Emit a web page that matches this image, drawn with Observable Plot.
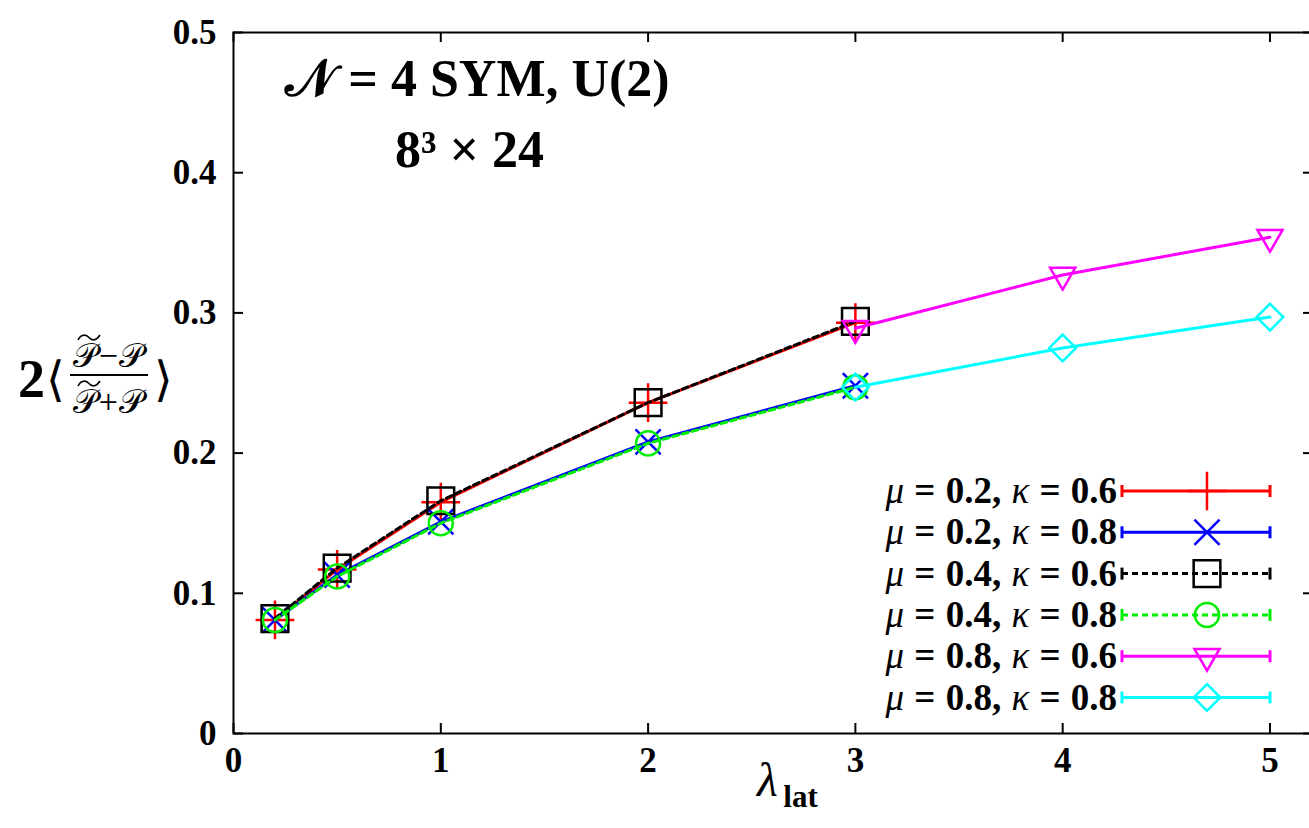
<!DOCTYPE html>
<html>
<head>
<meta charset="utf-8">
<script src="https://cdn.jsdelivr.net/npm/d3@7"></script>
<script src="https://cdn.jsdelivr.net/npm/@observablehq/plot@0.6"></script>
<style>
  html, body { margin: 0; padding: 0; background: #fff; overflow: hidden; }
  #wrap { position: relative; width: 1309px; height: 828px; }
  #wrap > svg { overflow: hidden; }
  #wrap svg text { font-family: "Liberation Serif", "Times New Roman", "DejaVu Serif", serif; }
  #ylab { position: absolute; left: 18px; top: 338px; display: flex; align-items: center;
          font-family: "Liberation Serif", "Times New Roman", "DejaVu Serif", serif; color: #000; }
  .tl { display: inline-block; position: relative; }
  .tl svg { position: absolute; left: 4px; top: -4px; overflow: visible; }
</style>
</head>
<body>
<div id="wrap"></div>
<script>
// ---- data ----
const lambdaLow = [0.2, 0.5, 1, 2, 3];
const lambdaHigh = [3, 4, 5];
const mu02_k06 = [0.081, 0.117, 0.165, 0.236, 0.293];
const mu02_k08 = [0.081, 0.113, 0.151, 0.208, 0.248];
const mu04_k06 = [0.082, 0.118, 0.166, 0.236, 0.294];
const mu04_k08 = [0.081, 0.112, 0.150, 0.207, 0.247];
const mu08_k06 = [0.289, 0.327, 0.354];
const mu08_k08 = [0.247, 0.275, 0.297];
const seriesMu = ["0.2", "0.2", "0.4", "0.4", "0.8", "0.8"];
const seriesKappa = ["0.6", "0.8", "0.6", "0.8", "0.6", "0.8"];
const xTickValues = [0, 1, 2, 3, 4, 5];
const yTickValues = [0, 0.1, 0.2, 0.3, 0.4, 0.5];
const titleLines = ["𝒩 = 4 SYM, U(2)", "8³ × 24"];

// ---- styles ----
const styles = [
  {color: "#ff0000", symbol: "plus", r: 12.5, dash: null, rotate: 0},
  {color: "#0000ff", symbol: "times", r: 11.5, dash: null, rotate: 0},
  {color: "#000000", symbol: "square2", r: 17, dash: "6,4", rotate: 0},
  {color: "#00ee00", symbol: "circle", r: 12, dash: "6,4", rotate: 0},
  {color: "#ff00ff", symbol: "triangle2", r: 12, dash: null, rotate: 180},
  {color: "#00ffff", symbol: "diamond2", r: 12, dash: null, rotate: 0}
];
const seriesX = [lambdaLow, lambdaLow, lambdaLow, lambdaLow, lambdaHigh, lambdaHigh];
const seriesY = [mu02_k06, mu02_k08, mu04_k06, mu04_k08, mu08_k06, mu08_k08];
const series = seriesY.map((ys, i) => ys.map((y, j) => ({x: seriesX[i][j], y, s: i})));

const W = 1309, H = 828, mL = 233, mR = -4, mT = 32, mB = 95;
const plotW = W - mL - mR, plotH = H - mT - mB;
const font = "Liberation Serif, Times New Roman, serif";

const marks = [
  Plot.frame({stroke: "#000", strokeWidth: 2}),
  Plot.tickY(yTickValues, {y: d => d, insetRight: plotW - 10, strokeWidth: 2}),
  Plot.tickY(yTickValues, {y: d => d, insetLeft: plotW - 10, strokeWidth: 2}),
  Plot.tickX(xTickValues, {x: d => d, insetTop: plotH - 10, strokeWidth: 2}),
  Plot.tickX(xTickValues, {x: d => d, insetBottom: plotH - 10, strokeWidth: 2}),
  Plot.axisY({ticks: yTickValues, tickSize: 0, tickPadding: 17, label: null,
    tickFormat: d => d === 0 ? "0" : d.toFixed(1), fontSize: 35, fontWeight: "bold", fontFamily: font}),
  Plot.axisX({ticks: xTickValues, tickSize: 0, tickPadding: 14, label: null,
    tickFormat: d => String(d), fontSize: 35, fontWeight: "bold", fontFamily: font}),
  Plot.text([titleLines[0]], {text: d => d, frameAnchor: "top-left", dx: 244, dy: 27,
    textAnchor: "middle", fontSize: 52, fontWeight: "bold", fontFamily: font}),
  Plot.text([titleLines[1]], {text: d => d, frameAnchor: "top-left", dx: 236, dy: 98,
    textAnchor: "middle", fontSize: 52, fontWeight: "bold", fontFamily: font}),
  Plot.text(["λ"], {text: d => d, frameAnchor: "bottom", dx: -6, dy: 62, fontSize: 48,
    fontStyle: "italic", fontWeight: "normal", fontFamily: font}),
  Plot.text(["lat"], {text: d => d, frameAnchor: "bottom", dx: 27, dy: 73, fontSize: 31,
    fontWeight: "bold", fontFamily: font})
];
series.forEach((data, i) => {
  const st = styles[i];
  marks.push(Plot.line(data, {x: "x", y: "y", stroke: st.color, strokeWidth: 3,
    strokeDasharray: st.dash}));
  marks.push(Plot.dot(data, {x: "x", y: "y", symbol: st.symbol, r: st.r, stroke: st.color,
    fill: "none", strokeWidth: 2.5, rotate: st.rotate}));
});

const chart = Plot.plot({
  width: W, height: H,
  marginLeft: mL, marginRight: mR, marginTop: mT, marginBottom: mB,
  x: {domain: [0, 5.21]},
  y: {domain: [0, 0.5]},
  style: {fontFamily: font, fontWeight: "bold", fontSize: "32px", color: "#000", background: "#fff"},
  marks
});
document.getElementById("wrap").appendChild(chart);

// ---- legend (inside plot, bottom right) ----
const svg = d3.select(chart);
const lg = svg.append("g").attr("font-family", font);
const rowY0 = 491, rowStep = 41.3, textRight = 1117, lx1 = 1122, lx2 = 1270, lmx = 1207;
const symMap = {plus: d3.symbolPlus, times: d3.symbolTimes, square2: d3.symbolSquare2,
  circle: d3.symbolCircle, triangle2: d3.symbolTriangle2, diamond2: d3.symbolDiamond2};
seriesMu.forEach((mu, i) => {
  const st = styles[i];
  const y = rowY0 + i * rowStep;
  const t = lg.append("text").attr("x", textRight).attr("y", y + 12)
    .attr("text-anchor", "end").attr("font-size", 37).attr("fill", "#000")
    .attr("word-spacing", 1);
  t.append("tspan").attr("font-style", "italic").attr("font-weight", "normal").text("μ");
  t.append("tspan").attr("font-weight", "bold").text(" = " + mu + ", ");
  t.append("tspan").attr("font-style", "italic").attr("font-weight", "normal").text("κ");
  t.append("tspan").attr("font-weight", "bold").text(" = " + seriesKappa[i]);
  lg.append("line").attr("x1", lx1).attr("x2", lx2).attr("y1", y).attr("y2", y)
    .attr("stroke", st.color).attr("stroke-width", 3).attr("stroke-dasharray", st.dash);
  [lx1, lx2].forEach(cx => lg.append("line").attr("x1", cx).attr("x2", cx)
    .attr("y1", y - 6).attr("y2", y + 6).attr("stroke", st.color).attr("stroke-width", 3));
  lg.append("path").attr("d", d3.symbol(symMap[st.symbol], Math.PI * st.r * st.r)())
    .attr("transform", `translate(${lmx},${y}) rotate(${st.rotate})`)
    .attr("fill", "none").attr("stroke", st.color).attr("stroke-width", 2.5);
});

// ---- y-axis label ----
const ylab = document.createElement("div");
ylab.id = "ylab";
const tildeSvg = '<svg width="24" height="7"><path d="M1,6 C4,0 9,0 12,3.5 S19,7 23,1" stroke="#000" fill="none" stroke-width="1.6"/></svg>';
const P = '<span>𝒫</span>';
const Pt = '<span class="tl">' + tildeSvg + '𝒫</span>';
ylab.innerHTML =
  '<span style="font-size:54px;font-weight:bold">2</span>' +
  '<span style="font-size:48px;margin-left:1px">⟨</span>' +
  '<span style="display:inline-flex;flex-direction:column;align-items:center;font-size:34px;margin:0 6px 0 5px">' +
  '<span style="border-bottom:2px solid #000;padding:0 3px;line-height:36px;letter-spacing:1px">' + Pt + '−' + P + '</span>' +
  '<span style="line-height:36px;padding-top:8px;letter-spacing:1px">' + Pt + '+' + P + '</span></span>' +
  '<span style="font-size:48px">⟩</span>';
document.getElementById("wrap").appendChild(ylab);
</script>
</body>
</html>
